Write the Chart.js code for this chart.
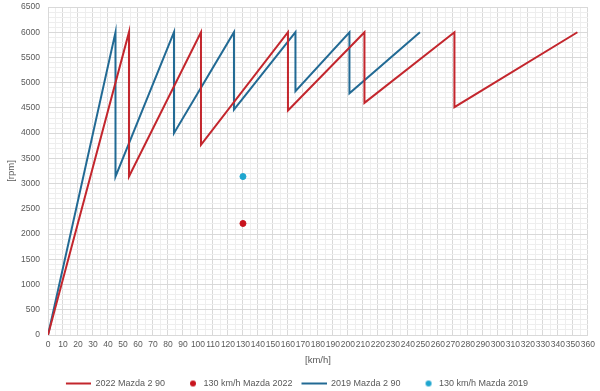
<!DOCTYPE html>
<html>
<head>
<meta charset="utf-8">
<script src="https://cdn.jsdelivr.net/npm/chart.js@4.4.1/dist/chart.umd.min.js"></script>
<style>
  html, body { margin: 0; padding: 0; background: #fff; }
  #wrap { width: 600px; height: 391px; position: relative; }
</style>
</head>
<body>
<div id="wrap"><canvas id="chart"></canvas></div>
<script>
// 2022 Mazda 2 90 - speed [km/h] and engine rpm per gear
const speed2022 = [0, 54, 54, 102, 102, 160, 160, 211, 211, 271, 271, 353];
const rpm2022 = [0, 6000, 3140, 6000, 3770, 6000, 4450, 6000, 4600, 6000, 4515, 6000];

// 2019 Mazda 2 90
const speed2019 = [0, 45, 45, 84, 84, 124, 124, 165, 165, 201, 201, 248];
const rpm2019 = [0, 6000, 3140, 6000, 4000, 6000, 4465, 6000, 4830, 6000, 4790, 6000];

// 130 km/h markers
const cruise2022 = { x: 130, y: 2210 };
const cruise2019 = { x: 130, y: 3140 };

const red = "#c3262d";
const blue = "#226a94";
const redDot = "#c8141e";
const cyanDot = "#1fa6cf";
const fontFam = "'Liberation Sans', Arial, sans-serif";

function toPoints(xs, ys) {
    return xs.map((x, i) => ({ x: x, y: ys[i] }));
}

// legend markers: line on the right part, transparent gap on the left
function lineMarker(color) {
    const c = document.createElement("canvas");
    c.width = 30;
    c.height = 4;
    const g = c.getContext("2d");
    g.fillStyle = color;
    g.fillRect(5, 1, 25, 2);
    return c;
}

function dotMarker(color) {
    const c = document.createElement("canvas");
    c.width = 30;
    c.height = 8;
    const g = c.getContext("2d");
    g.fillStyle = color;
    g.beginPath();
    g.arc(24, 4, 3, 0, Math.PI * 2);
    g.fill();
    return c;
}

// move the legend a bit lower, like in the original
const legendShift = {
    id: "legendShift",
    afterLayout(chart) {
        if (chart.legend) {
            chart.legend.top += 7;
            chart.legend.bottom += 7;
        }
    }
};

const ctx = document.getElementById("chart").getContext("2d");

new Chart(ctx, {
    type: "scatter",
    data: {
        datasets: [
            {
                label: "2022 Mazda 2 90",
                data: toPoints(speed2022, rpm2022),
                showLine: true,
                borderColor: red,
                backgroundColor: red,
                borderWidth: 2,
                pointRadius: 0,
                pointStyle: lineMarker(red)
            },
            {
                label: "130 km/h Mazda 2022",
                data: [cruise2022],
                borderColor: redDot,
                backgroundColor: redDot,
                pointRadius: 3,
                pointStyle: "circle"
            },
            {
                label: "2019 Mazda 2 90",
                data: toPoints(speed2019, rpm2019),
                showLine: true,
                borderColor: blue,
                backgroundColor: blue,
                borderWidth: 2,
                pointRadius: 0,
                pointStyle: lineMarker(blue)
            },
            {
                label: "130 km/h Mazda 2019",
                data: [cruise2019],
                borderColor: cyanDot,
                backgroundColor: cyanDot,
                pointRadius: 3,
                pointStyle: "circle"
            }
        ]
    },
    plugins: [legendShift],
    options: {
        responsive: true,
        maintainAspectRatio: false,
        animation: false,
        layout: { padding: { top: 7, right: 11, left: 0, bottom: 0 } },
        plugins: {
            tooltip: { enabled: false },
            legend: {
                display: true,
                position: "bottom",
                labels: {
                    usePointStyle: true,
                    pointStyleWidth: 30,
                    boxHeight: 8,
                    padding: 4,
                    color: "#595959",
                    font: { family: fontFam, size: 9 },
                    generateLabels: chart => {
                        const items = Chart.defaults.plugins.legend.labels.generateLabels(chart);
                        items.forEach(it => {
                            if (it.datasetIndex === 1) it.pointStyle = dotMarker(redDot);
                            if (it.datasetIndex === 3) it.pointStyle = dotMarker(cyanDot);
                        });
                        return items;
                    }
                }
            }
        },
        scales: {
            x: {
                type: "linear",
                min: 0,
                max: 360,
                afterFit: s => { s.height = 33; },
                ticks: {
                    stepSize: 5,
                    autoSkip: false,
                    maxRotation: 0,
                    padding: 5,
                    color: "#595959",
                    font: { family: fontFam, size: 8.5 },
                    callback: v => (v % 10 === 0 ? String(v) : "")
                },
                grid: {
                    color: c => (c.tick && c.tick.value % 10 === 0 ? "#d9d9d9" : "#eeeeee"),
                    drawTicks: false
                },
                border: { color: "#d9d9d9" },
                title: {
                    display: true,
                    text: "[km/h]",
                    color: "#595959",
                    padding: { top: 0, bottom: 2 },
                    font: { family: fontFam, size: 9.5 }
                }
            },
            y: {
                min: 0,
                max: 6500,
                afterFit: s => {
                    s.width = 48;
                    s.paddingTop = 0;
                    s.paddingBottom = 0;
                },
                ticks: {
                    stepSize: 100,
                    autoSkip: false,
                    padding: 8,
                    color: "#595959",
                    font: { family: fontFam, size: 8.5 },
                    callback: v => (v % 500 === 0 ? String(v) : "")
                },
                grid: {
                    color: c => (c.tick && c.tick.value % 500 === 0 ? "#d9d9d9" : "#eeeeee"),
                    drawTicks: false
                },
                border: { color: "#d9d9d9" },
                title: {
                    display: true,
                    text: "[rpm]",
                    color: "#595959",
                    padding: { top: 6, bottom: 0 },
                    font: { family: fontFam, size: 9.5 }
                }
            }
        }
    }
});
</script>
</body>
</html>
